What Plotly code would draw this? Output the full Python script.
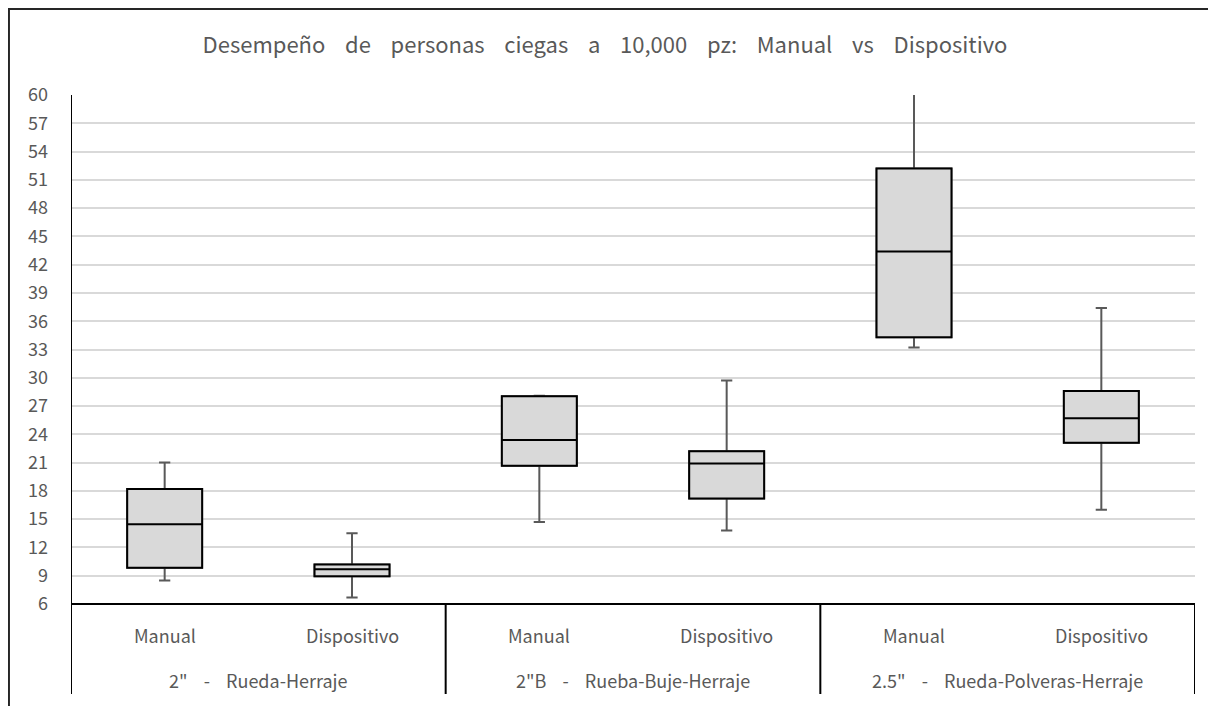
import plotly.graph_objects as go

# ---- data ----
SEP = "\u00a0\u00a0\u00a0\u00a0-\u00a0\u00a0\u00a0\u00a0"
groups = ['2"' + SEP + 'Rueda-Herraje',
          '2"B' + SEP + 'Rueba-Buje-Herraje',
          '2.5"' + SEP + 'Rueda-Polveras-Herraje']
methods = ['Manual', 'Dispositivo']
lower_fence = [8.5, 6.7, 14.7, 13.8, 33.2, 16.0]
q1 = [9.85, 8.94, 20.67, 17.2, 34.3, 23.1]
median = [14.45, 9.68, 23.4, 20.9, 43.4, 25.7]
q3 = [18.2, 10.2, 28.05, 22.2, 52.2, 28.6]
upper_fence = [21.0, 13.5, 28.1, 29.7, 63.0, 37.4]
y_ticks = list(range(6, 61, 3))
title_words = ['Desempeño', 'de', 'personas', 'ciegas', 'a', '10,000', 'pz:',
               'Manual', 'vs', 'Dispositivo']

FONT = "Noto Sans CJK KR"
GRAY_TXT = "#595959"

sub_labels = [m for g in groups for m in methods]
xpos = list(range(len(sub_labels)))
title_text = "\u00a0\u00a0\u00a0 ".join(title_words)

fig = go.Figure()
# whiskers (gray) trace
fig.add_trace(go.Box(
    x=xpos, q1=q1, median=median, q3=q3,
    lowerfence=lower_fence, upperfence=upper_fence,
    width=0.4, whiskerwidth=0.15,
    fillcolor="#d9d9d9", line=dict(color="#595959", width=2),
    showlegend=False, hoverinfo="skip", boxpoints=False,
))
# box body (black outline) trace
fig.add_trace(go.Box(
    x=xpos, q1=q1, median=median, q3=q3,
    lowerfence=q1, upperfence=q3,
    width=0.4, whiskerwidth=0,
    fillcolor="#d9d9d9", line=dict(color="#000000", width=2),
    showlegend=False, boxpoints=False,
))

# category labels (lower level)
for i, lab in enumerate(sub_labels):
    fig.add_annotation(x=i, y=-0.0609, xref="x", yref="paper", text=lab,
                       showarrow=False, yanchor="middle",
                       font=dict(family=FONT, size=18, color=GRAY_TXT))
# group labels
for gi, g in enumerate(groups):
    fig.add_annotation(x=gi * 2 + 0.5, y=-0.1493, xref="x", yref="paper", text=g,
                       showarrow=False, yanchor="middle",
                       font=dict(family=FONT, size=18, color=GRAY_TXT))

# group dividers
for d in [-0.5, 1.5, 3.5, 5.5]:
    fig.add_shape(type="line", xref="x", yref="paper", x0=d, x1=d,
                  y0=-0.1768, y1=(1 if d == -0.5 else 0),
                  line=dict(color="#000000", width=2))
# category axis line
fig.add_shape(type="line", xref="x", yref="paper", x0=-0.5, x1=5.5, y0=0, y1=0,
              line=dict(color="#000000", width=2))
# outer chart border
fig.add_shape(type="rect", xref="paper", yref="paper", x0=-0.0552, x1=1.2,
              y0=-0.4, y1=1.169, line=dict(color="#262626", width=2),
              layer="below")

fig.update_layout(
    width=1216, height=706,
    margin=dict(l=63, r=29, t=87, b=110),
    paper_bgcolor="white", plot_bgcolor="white",
    title=dict(text=title_text, x=597 / 1216, xref="container", xanchor="center",
               y=1 - 37 / 706, yref="container", yanchor="middle",
               font=dict(family=FONT, size=22, color=GRAY_TXT)),
    xaxis=dict(range=[-0.5, 5.5], showticklabels=False, showgrid=False,
               zeroline=False, showline=False, ticks=""),
    yaxis=dict(range=[6, 60], tickvals=y_ticks, showgrid=True,
               gridcolor="#d9d9d9", gridwidth=1.5, zeroline=False,
               showline=False, ticks="", ticklabelstandoff=22,
               tickfont=dict(family=FONT, size=18, color=GRAY_TXT)),
    showlegend=False,
)

fig.write_html("out.html")
